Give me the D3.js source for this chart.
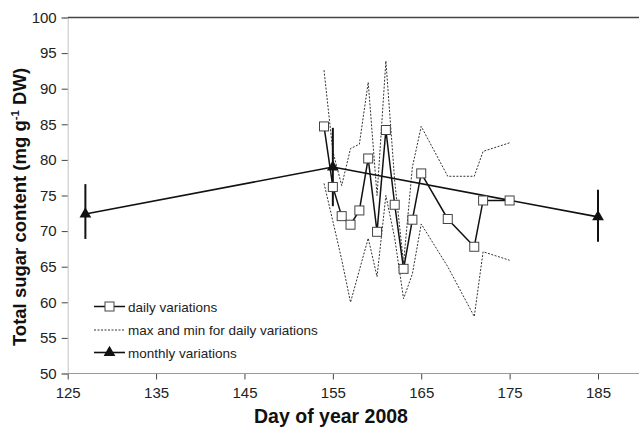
<!DOCTYPE html>
<html><head><meta charset="utf-8">
<script src="https://cdn.jsdelivr.net/npm/d3@7/dist/d3.min.js"></script>
<style>body{margin:0;background:#fff;}svg{display:block;font-family:"Liberation Sans",Arial,sans-serif;}</style>
</head><body><svg id="c" width="639" height="427"></svg>
<script>
const dailyDays = [154,155,156,157,158,159,160,161,162,163,164,165,168,171,172,175];
const dailyVals = [84.7,76.2,72.1,70.9,72.9,80.2,69.9,84.2,73.7,64.7,71.6,78.1,71.7,67.8,74.3,74.3];
const maxVals   = [92.6,81.2,76.4,81.6,82.2,90.9,75.0,93.9,77.0,65.5,79.0,84.7,77.7,77.7,81.2,82.4];
const minVals   = [76.7,71.4,66.0,60.0,64.5,69.0,63.6,75.0,69.0,60.5,64.0,71.0,65.0,58.0,67.1,65.9];
const monthDays = [127,155,185];
const monthVals = [72.4,79.0,72.0];
const monthLow  = [68.9,73.5,68.5];
const monthHigh = [76.6,84.5,75.8];
const xTicks = [125,135,145,155,165,175,185];
const yTicks = [50,55,60,65,70,75,80,85,90,95,100];
const legendLabels = ["daily variations","max and min for daily variations","monthly variations"];

const svg = d3.select("#c");
const L = 67.7, T = 17.5, B = 373.5;
const x = d3.scaleLinear().domain([125,185]).range([L,598]);
const y = d3.scaleLinear().domain([50,100]).range([B,T]);
const R = 639;

svg.append("line").attr("x1",L).attr("x2",R).attr("y1",T).attr("y2",T).attr("stroke","#444").attr("stroke-width",1.5);

const yAx = svg.append("g").attr("transform",`translate(${L},0)`).call(d3.axisLeft(y).tickValues(yTicks).tickSize(6).tickPadding(5));
yAx.select(".domain").attr("stroke","#888").attr("stroke-dasharray","1,1");
yAx.selectAll(".tick line").attr("stroke","#444");
yAx.selectAll("text").attr("font-size",15).attr("fill","#222").attr("font-family","Liberation Sans, Arial, sans-serif");

const xAx = svg.append("g").attr("transform",`translate(0,${B})`).call(d3.axisBottom(x).tickValues(xTicks).tickSize(6).tickPadding(8));
xAx.select(".domain").remove();
svg.append("line").attr("x1",L).attr("x2",R).attr("y1",B).attr("y2",B).attr("stroke","#999").attr("stroke-width",1.2);
xAx.selectAll(".tick line").attr("stroke","#444");
xAx.selectAll("text").attr("font-size",15).attr("fill","#222").attr("font-family","Liberation Sans, Arial, sans-serif");

svg.append("text").attr("x",331).attr("y",423).attr("text-anchor","middle").attr("font-weight","bold").attr("font-size",19.5).attr("fill","#111").text("Day of year 2008");
const yt = svg.append("text").attr("transform",`translate(26,207) rotate(-90)`).attr("text-anchor","middle").attr("font-weight","bold").attr("font-size",18.5).attr("fill","#111");
yt.append("tspan").text("Total sugar content (mg g");
yt.append("tspan").attr("dy",-7).attr("font-size",11.5).text("-1");
yt.append("tspan").attr("dy",7).text(" DW)");

const lineGen = d3.line().x(d=>x(d[0])).y(d=>y(d[1]));
[maxVals,minVals].forEach(vals=>{
  svg.append("path").datum(dailyDays.map((d,i)=>[d,vals[i]])).attr("d",lineGen)
    .attr("fill","none").attr("stroke","#333").attr("stroke-width",1).attr("stroke-dasharray","2,1.5");
});

const mData = monthDays.map((d,i)=>[d,monthVals[i]]);
svg.append("path").datum(mData).attr("d",lineGen).attr("fill","none").attr("stroke","#111").attr("stroke-width",1.6);
monthDays.forEach((d,i)=>{
  svg.append("line").attr("x1",x(d)).attr("x2",x(d)).attr("y1",y(monthLow[i])).attr("y2",y(monthHigh[i])).attr("stroke","#111").attr("stroke-width",2);
});
const tri = d3.symbol().type(d3.symbolTriangle).size(60);
svg.selectAll(".tri").data(mData).enter().append("path").attr("d",tri)
  .attr("transform",d=>`translate(${x(d[0])},${y(d[1])})`).attr("fill","#111");

const dData = dailyDays.map((d,i)=>[d,dailyVals[i]]);
svg.append("path").datum(dData).attr("d",lineGen).attr("fill","none").attr("stroke","#111").attr("stroke-width",1.5);
svg.selectAll(".sq").data(dData).enter().append("rect")
  .attr("x",d=>x(d[0])-4.5).attr("y",d=>y(d[1])-4.5).attr("width",9).attr("height",9)
  .attr("fill","#fff").attr("stroke","#444").attr("stroke-width",1);

const lg = svg.append("g");
const ly = [306.5,330,352.5];
const lx1 = 94, lx2 = 125, ltx = 128;
lg.append("line").attr("x1",lx1).attr("x2",lx2).attr("y1",ly[0]).attr("y2",ly[0]).attr("stroke","#111").attr("stroke-width",1.5);
lg.append("rect").attr("x",(lx1+lx2)/2-4.5).attr("y",ly[0]-4.5).attr("width",9).attr("height",9).attr("fill","#fff").attr("stroke","#444");
lg.append("line").attr("x1",lx1).attr("x2",lx2).attr("y1",ly[1]).attr("y2",ly[1]).attr("stroke","#333").attr("stroke-dasharray","2,1.5");
lg.append("line").attr("x1",lx1).attr("x2",lx2).attr("y1",ly[2]).attr("y2",ly[2]).attr("stroke","#111").attr("stroke-width",1.6);
lg.append("path").attr("d",tri).attr("transform",`translate(${(lx1+lx2)/2},${ly[2]})`).attr("fill","#111");
legendLabels.forEach((t,i)=>{
  lg.append("text").attr("x",ltx).attr("y",ly[i]+5).attr("font-size",13.5).attr("fill","#222").text(t);
});
</script></body></html>
